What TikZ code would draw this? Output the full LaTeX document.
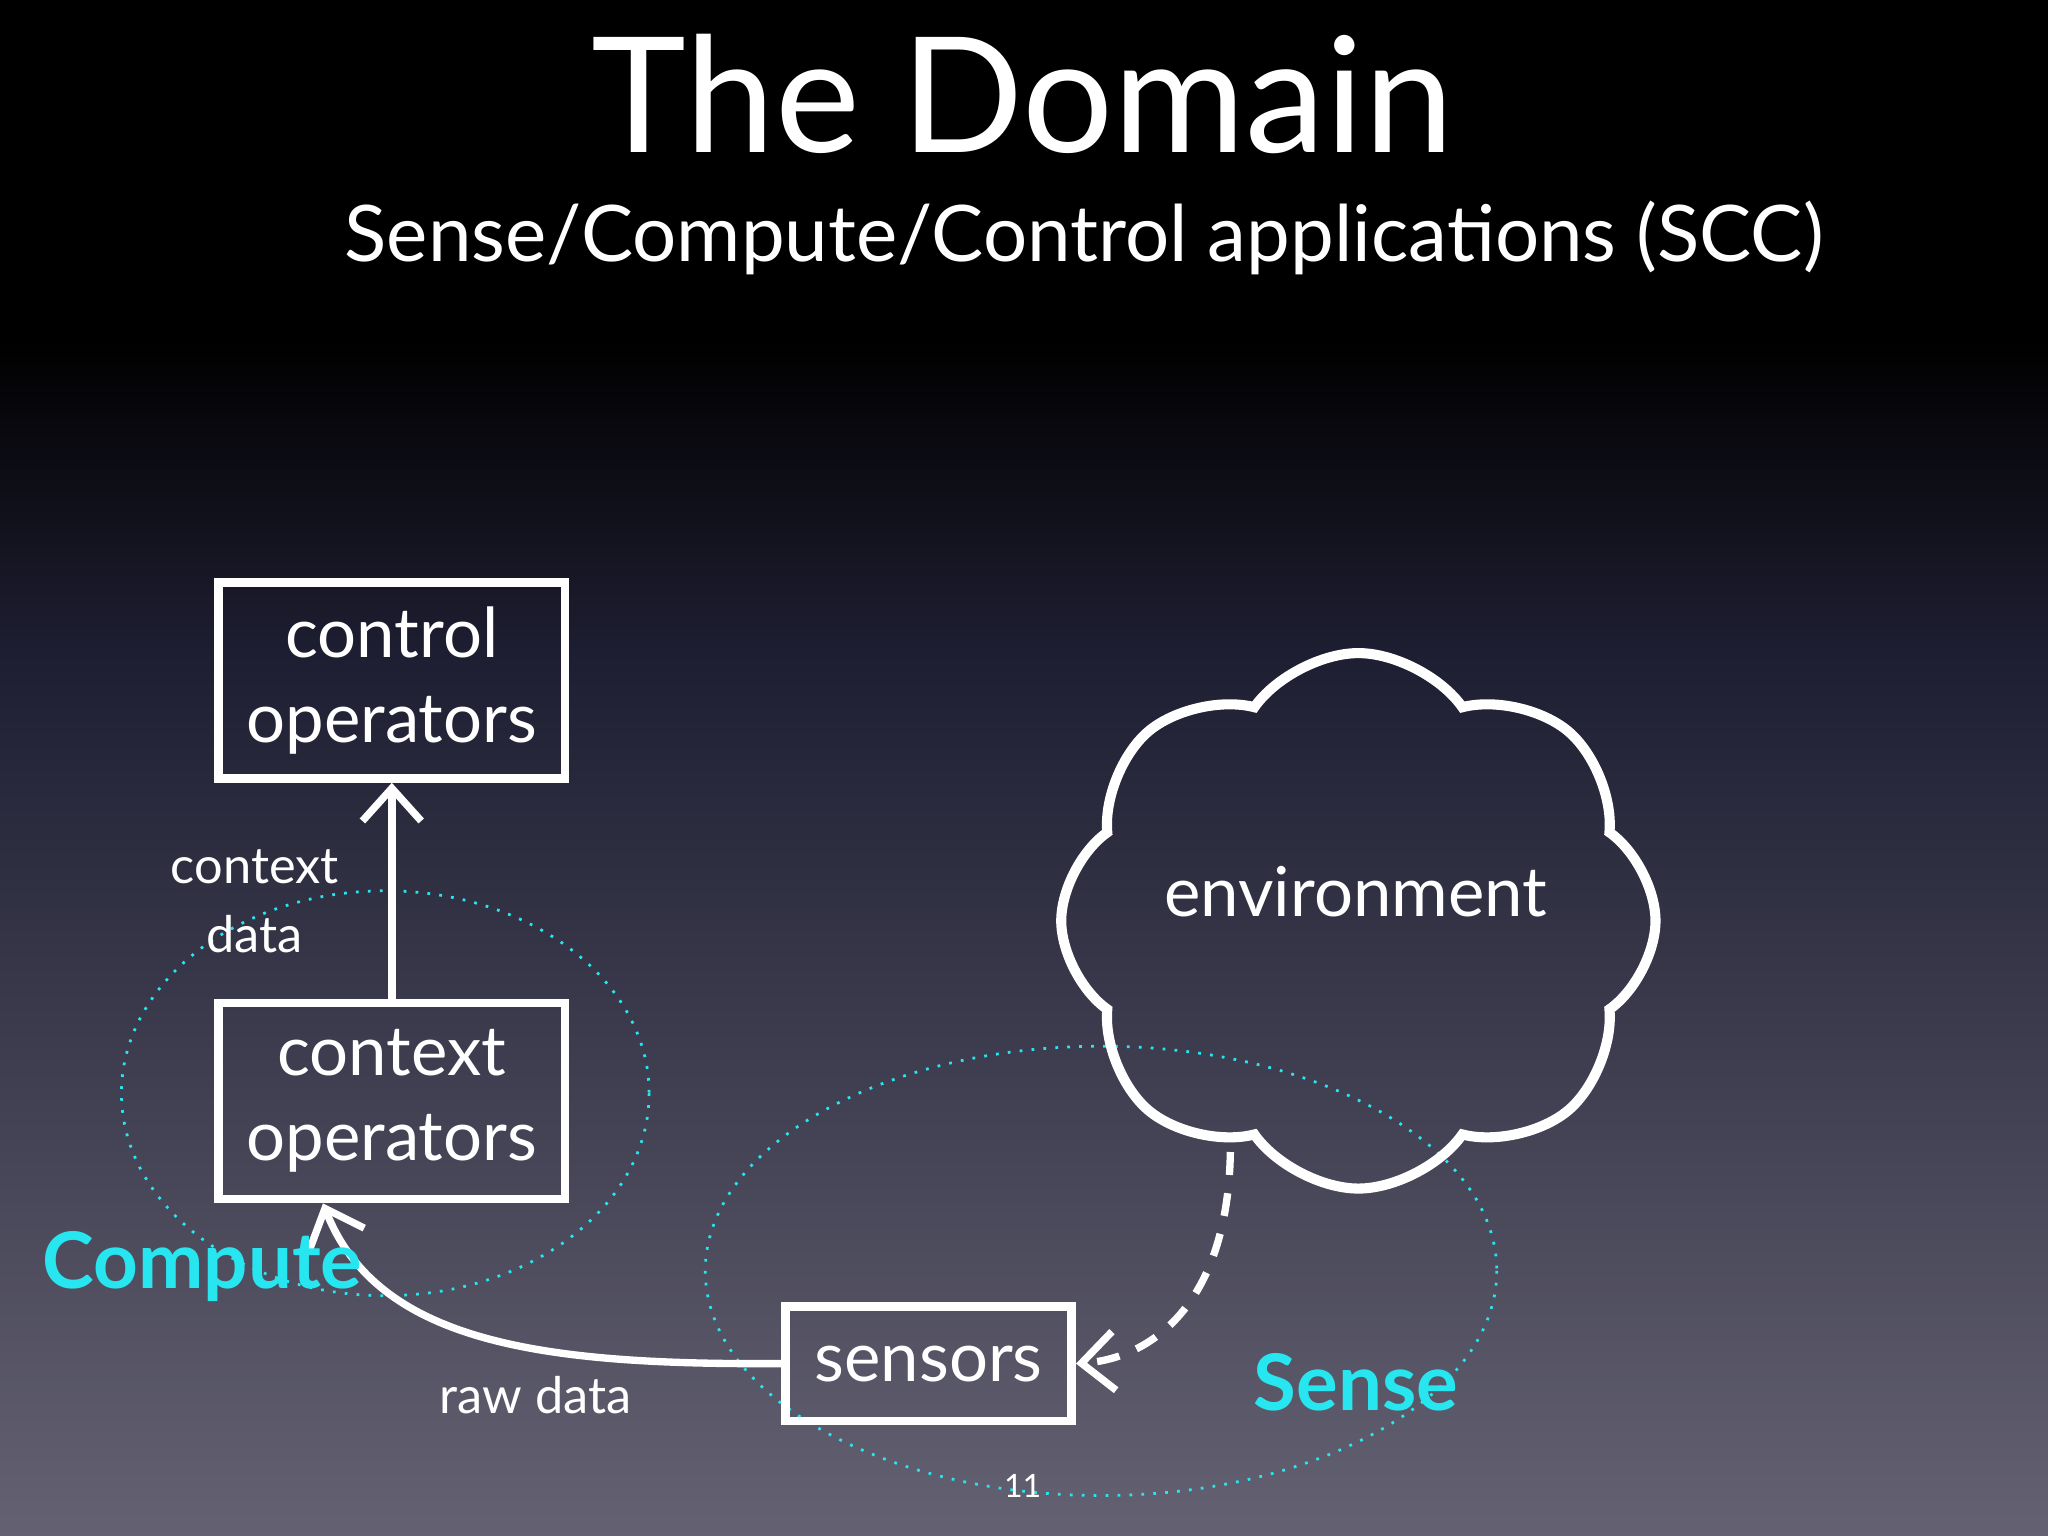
\documentclass[tikz,border=0pt]{standalone}
\usepackage{fontspec}
\setmainfont{Lato}
\usetikzlibrary{shapes.symbols,arrows.meta}
\definecolor{bgb}{RGB}{100,98,114}
\definecolor{bgm}{RGB}{30,30,50}
\definecolor{cy}{RGB}{40,230,240}
\tikzset{
 opbox/.style={draw=white,line width=1.9pt,minimum width=26mm,minimum height=15mm,text=white,font=\fontsize{15}{18.5}\selectfont,align=center,inner sep=0pt},
 conn/.style={draw=white,line width=1.6pt,-{Straight Barb[length=2.5mm,width=4.5mm,line width=1.6pt]}},
 lab/.style={text=white,font=\fontsize{11}{15}\selectfont,align=center},
 zone/.style={draw=cy,dotted,line width=0.6pt},
 zlab/.style={text=cy,font=\fontsize{17}{20}\bfseries\selectfont}
}
\begin{document}
\begin{tikzpicture}[x=0.1mm,y=-0.1mm]
\useasboundingbox (0,0) rectangle (1568,1176);
\fill[black] (0,0) rectangle (1568,260);
\shade[top color=black,bottom color=bgm] (0,259) rectangle (1568,500);
\shade[top color=bgm,bottom color=bgb] (0,499) rectangle (1568,1176);
\node[text=white,font=\fontsize{35}{40}\selectfont] (title) at (783,72) {The Domain};
\node[text=white,font=\fontsize{17}{20}\selectfont] (sub) at (830,182) {Sense/Compute/Control applications (SCC)};
\draw[zone] (295,837) ellipse [x radius=202,y radius=155];
\draw[zone] (843,973) ellipse [x radius=303,y radius=172];
\node[opbox,minimum width=26.5mm] (ctrl) at (300,521) {control\\operators};
\node[opbox,minimum width=26.5mm] (ctx) at (300,843) {context\\operators};
\node[opbox,minimum width=21.9mm,minimum height=8.8mm] (sens) at (711,1044) {sensors};
\node[cloud,cloud puffs=8,cloud puff arc=110,aspect=1.1,draw=white,line width=2.2pt,minimum width=45.5mm,minimum height=41mm] (env) at (1040,705) {};
\node[text=white,font=\fontsize{15}{18}\selectfont] (envt) at (1038,683) {environment};
\draw[conn] (ctx.north) -- (ctrl.south);
\node[lab] (cd) at (195,690) {context\\data};
\coordinate (cb) at (942,882);
\draw[conn,dashed,dash pattern=on 5pt off 4pt] (cb) .. controls (940,1000) and (880,1040) .. (sens.east);
\draw[conn] (sens.west) .. controls (420,1045) and (290,1030) .. ([xshift=-15]ctx.south);
\node[lab] (rd) at (410,1068) {raw data};
\node[zlab] (cl) at (155,970) {Compute};
\node[zlab] (sl) at (1038,1058) {Sense};
\node[text=white,font=\fontsize{7}{8}\selectfont] (pg) at (783,1138) {11};
\end{tikzpicture}
\end{document}
